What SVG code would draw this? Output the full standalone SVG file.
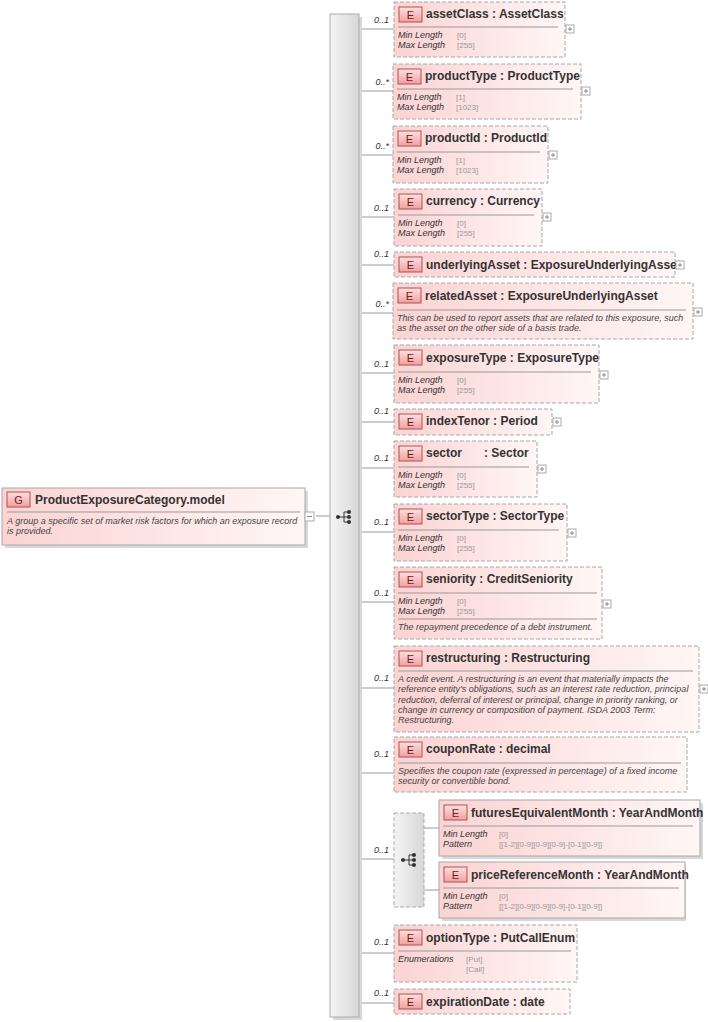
<svg xmlns="http://www.w3.org/2000/svg" width="708" height="1022" viewBox="0 0 708 1022">
<defs>
<linearGradient id="pk" x1="0" y1="0" x2="1" y2="0"><stop offset="0" stop-color="#fbd3d3"/><stop offset="1" stop-color="#fff6f6"/></linearGradient>
<linearGradient id="bd" x1="0" y1="0" x2="0" y2="1"><stop offset="0" stop-color="#fde0e0"/><stop offset="1" stop-color="#f0a0a0"/></linearGradient>
<linearGradient id="gr" x1="0" y1="0" x2="1" y2="0"><stop offset="0" stop-color="#f4f4f4"/><stop offset="1" stop-color="#d8d8d8"/></linearGradient>
<style>
.b{fill:url(#pk);stroke:#a8a8a8;stroke-dasharray:4,2}
.s{fill:url(#pk);stroke:#a8a8a8}
.sh{fill:#d8d8d8}
.bg{fill:url(#bd);stroke:#b05050}
.bl{font:11px "Liberation Sans",Arial,sans-serif;fill:#702020;text-anchor:middle}
.t{font:bold 12px "Liberation Sans",Arial,sans-serif;fill:#333}
.hl{stroke:#999;stroke-width:1}
.p{font:italic 9px "Liberation Sans",Arial,sans-serif;fill:#333}
.v{font:8px "Liberation Sans",Arial,sans-serif;fill:#999}
.d{font:italic 9px "Liberation Sans",Arial,sans-serif;fill:#444}
.c{font:italic 9px "Liberation Sans",Arial,sans-serif;fill:#333;text-anchor:end}
.ln{stroke:#999;fill:none}
.pl{fill:#fff;stroke:#aaa}
</style>
<g id="plus"><rect x="0" y="0" width="8" height="8" class="pl"/><path d="M2 4H6M4 2V6" stroke="#888"/></g>
<g id="ico"><circle cx="0" cy="0" r="2" fill="#333"/><path d="M0 0H6M6 -5V5H10M6 -5H10M6 0H10" stroke="#333" fill="none"/><circle cx="11" cy="-5" r="2" fill="#333"/><circle cx="11" cy="0" r="2" fill="#333"/><circle cx="11" cy="5" r="2" fill="#333"/></g>
</defs>
<rect width="708" height="1022" fill="#fff"/>

<g id="connectors">
<path class="ln" d="M316 516H330"/>
<path class="ln" d="M358 29H394M358 91H393M358 155H393M358 217H394M358 265H394M358 313H393M358 373H394M358 422H394M358 468H394M358 532H394M358 602H394M358 688H394M358 773H394M358 859H394M424 828H439M424 890H439M358 953H394M358 1003H394"/>
</g>

<g id="main-bar"><rect x="333" y="17" width="29" height="1003" class="sh"/><rect x="330" y="14" width="29" height="1003" fill="url(#gr)" stroke="#aaa"/><use href="#ico" x="338" y="517"/></g>

<g id="root">
<rect x="5" y="491" width="303" height="57" class="sh"/>
<rect x="2" y="488" width="303" height="57" class="s"/>
<rect x="7" y="492" width="23" height="15" class="bg"/><text x="18.5" y="504" class="bl">G</text>
<text x="35" y="504" class="t">ProductExposureCategory.model</text>
<line x1="7" y1="512" x2="300" y2="512" class="hl"/>
<text x="7" y="524" class="d">A group a specific set of market risk factors for which an exposure record</text>
<text x="7" y="534" class="d">is provided.</text>
<rect x="305" y="512" width="9" height="9" class="pl"/><path d="M307 516.5H312" stroke="#888"/>
</g>

<g id="assetClass">
<text x="389" y="23" class="c">0..1</text>
<rect x="394" y="2" width="171" height="55" class="b"/>
<rect x="399" y="7" width="23" height="15" class="bg"/><text x="410.5" y="19" class="bl">E</text>
<text x="426" y="18" class="t">assetClass : AssetClass</text>
<line x1="398" y1="27" x2="558" y2="27" class="hl"/>
<text x="398" y="38" class="p">Min Length</text><text x="457" y="38" class="v">[0]</text>
<text x="398" y="48" class="p">Max Length</text><text x="457" y="48" class="v">[255]</text>
<use href="#plus" x="566" y="25"/>
</g>

<g id="productType">
<text x="389" y="85" class="c">0..*</text>
<rect x="393" y="64" width="188" height="55" class="b"/>
<rect x="398" y="69" width="23" height="15" class="bg"/><text x="409.5" y="81" class="bl">E</text>
<text x="425" y="80" class="t">productType : ProductType</text>
<line x1="397" y1="89" x2="573" y2="89" class="hl"/>
<text x="397" y="100" class="p">Min Length</text><text x="456" y="100" class="v">[1]</text>
<text x="397" y="110" class="p">Max Length</text><text x="456" y="110" class="v">[1023]</text>
<use href="#plus" x="582" y="87"/>
</g>

<g id="productId">
<text x="389" y="149" class="c">0..*</text>
<rect x="393" y="126" width="155" height="57" class="b"/>
<rect x="398" y="131" width="23" height="15" class="bg"/><text x="409.5" y="143" class="bl">E</text>
<text x="425" y="142" class="t">productId : ProductId</text>
<line x1="397" y1="152" x2="540" y2="152" class="hl"/>
<text x="397" y="163" class="p">Min Length</text><text x="456" y="163" class="v">[1]</text>
<text x="397" y="173" class="p">Max Length</text><text x="456" y="173" class="v">[1023]</text>
<use href="#plus" x="549" y="151"/>
</g>

<g id="currency">
<text x="389" y="211" class="c">0..1</text>
<rect x="394" y="189" width="148" height="57" class="b"/>
<rect x="399" y="194" width="23" height="15" class="bg"/><text x="410.5" y="206" class="bl">E</text>
<text x="426" y="205" class="t">currency : Currency</text>
<line x1="398" y1="215" x2="534" y2="215" class="hl"/>
<text x="398" y="226" class="p">Min Length</text><text x="457" y="226" class="v">[0]</text>
<text x="398" y="236" class="p">Max Length</text><text x="457" y="236" class="v">[255]</text>
<use href="#plus" x="543" y="213"/>
</g>

<g id="underlyingAsset">
<text x="389" y="257" class="c">0..1</text>
<rect x="394" y="252" width="281" height="25" class="b"/>
<rect x="399" y="257" width="23" height="15" class="bg"/><text x="410.5" y="269" class="bl">E</text>
<text x="426" y="269" class="t">underlyingAsset : ExposureUnderlyingAsset</text>
<use href="#plus" x="676" y="261"/>
</g>

<g id="relatedAsset">
<text x="389" y="307" class="c">0..*</text>
<rect x="393" y="283" width="300" height="56" class="b"/>
<rect x="398" y="288" width="23" height="15" class="bg"/><text x="409.5" y="300" class="bl">E</text>
<text x="425" y="300" class="t">relatedAsset : ExposureUnderlyingAsset</text>
<line x1="397" y1="310" x2="686" y2="310" class="hl"/>
<text x="397" y="321" class="d">This can be used to report assets that are related to this exposure, such</text>
<text x="397" y="331" class="d">as the asset on the other side of a basis trade.</text>
<use href="#plus" x="694" y="308"/>
</g>

<g id="exposureType">
<text x="389" y="367" class="c">0..1</text>
<rect x="394" y="345" width="205" height="58" class="b"/>
<rect x="399" y="350" width="23" height="15" class="bg"/><text x="410.5" y="362" class="bl">E</text>
<text x="426" y="362" class="t">exposureType : ExposureType</text>
<line x1="398" y1="372" x2="591" y2="372" class="hl"/>
<text x="398" y="383" class="p">Min Length</text><text x="457" y="383" class="v">[0]</text>
<text x="398" y="393" class="p">Max Length</text><text x="457" y="393" class="v">[255]</text>
<use href="#plus" x="600" y="371"/>
</g>

<g id="indexTenor">
<text x="389" y="414" class="c">0..1</text>
<rect x="394" y="409" width="158" height="26" class="b"/>
<rect x="399" y="414" width="23" height="15" class="bg"/><text x="410.5" y="426" class="bl">E</text>
<text x="426" y="425" class="t">indexTenor : Period</text>
<use href="#plus" x="553" y="418"/>
</g>

<g id="sector">
<text x="389" y="461" class="c">0..1</text>
<rect x="394" y="441" width="143" height="56" class="b"/>
<rect x="399" y="446" width="23" height="15" class="bg"/><text x="410.5" y="458" class="bl">E</text>
<text x="426" y="457" class="t">sector</text><text x="484" y="457" class="t">: Sector</text>
<line x1="398" y1="467" x2="529" y2="467" class="hl"/>
<text x="398" y="478" class="p">Min Length</text><text x="457" y="478" class="v">[0]</text>
<text x="398" y="488" class="p">Max Length</text><text x="457" y="488" class="v">[255]</text>
<use href="#plus" x="538" y="465"/>
</g>

<g id="sectorType">
<text x="389" y="525" class="c">0..1</text>
<rect x="394" y="504" width="173" height="57" class="b"/>
<rect x="399" y="509" width="23" height="15" class="bg"/><text x="410.5" y="521" class="bl">E</text>
<text x="426" y="520" class="t">sectorType : SectorType</text>
<line x1="398" y1="530" x2="559" y2="530" class="hl"/>
<text x="398" y="541" class="p">Min Length</text><text x="457" y="541" class="v">[0]</text>
<text x="398" y="551" class="p">Max Length</text><text x="457" y="551" class="v">[255]</text>
<use href="#plus" x="568" y="529"/>
</g>

<g id="seniority">
<text x="389" y="596" class="c">0..1</text>
<rect x="394" y="567" width="208" height="72" class="b"/>
<rect x="399" y="572" width="23" height="15" class="bg"/><text x="410.5" y="584" class="bl">E</text>
<text x="426" y="583" class="t">seniority : CreditSeniority</text>
<line x1="398" y1="593" x2="597" y2="593" class="hl"/>
<text x="398" y="604" class="p">Min Length</text><text x="457" y="604" class="v">[0]</text>
<text x="398" y="614" class="p">Max Length</text><text x="457" y="614" class="v">[255]</text>
<line x1="398" y1="619" x2="597" y2="619" class="hl"/>
<text x="398" y="630" class="d">The repayment precedence of a debt instrument.</text>
<use href="#plus" x="603" y="600"/>
</g>

<g id="restructuring">
<text x="389" y="681" class="c">0..1</text>
<rect x="394" y="646" width="305" height="86" class="b"/>
<rect x="399" y="651" width="23" height="15" class="bg"/><text x="410.5" y="663" class="bl">E</text>
<text x="426" y="662" class="t">restructuring : Restructuring</text>
<line x1="398" y1="671" x2="693" y2="671" class="hl"/>
<text x="398" y="682" class="d">A credit event. A restructuring is an event that materially impacts the</text>
<text x="398" y="692" class="d">reference entity's obligations, such as an interest rate reduction, principal</text>
<text x="398" y="703" class="d">reduction, deferral of interest or principal, change in priority ranking, or</text>
<text x="398" y="713" class="d">change in currency or composition of payment. ISDA 2003 Term:</text>
<text x="398" y="723" class="d">Restructuring.</text>
<use href="#plus" x="700" y="685"/>
</g>

<g id="couponRate">
<text x="389" y="757" class="c">0..1</text>
<rect x="394" y="737" width="293" height="55" class="b"/>
<rect x="399" y="742" width="23" height="15" class="bg"/><text x="410.5" y="754" class="bl">E</text>
<text x="426" y="753" class="t">couponRate : decimal</text>
<line x1="398" y1="763" x2="681" y2="763" class="hl"/>
<text x="398" y="774" class="d">Specifies the coupon rate (expressed in percentage) of a fixed income</text>
<text x="398" y="784" class="d">security or convertible bond.</text>
</g>

<g id="sequence">
<text x="389" y="853" class="c">0..1</text>
<rect x="394" y="813" width="30" height="94" fill="url(#gr)" stroke="#aaa" stroke-dasharray="4,2"/>
<use href="#ico" x="403" y="860"/>
</g>

<g id="futuresEquivalentMonth">
<rect x="442" y="803" width="261" height="56" class="sh"/>
<rect x="439" y="800" width="261" height="56" class="s"/>
<rect x="444" y="805" width="23" height="15" class="bg"/><text x="455.5" y="817" class="bl">E</text>
<text x="471" y="817" class="t">futuresEquivalentMonth : YearAndMonth</text>
<line x1="443" y1="826" x2="693" y2="826" class="hl"/>
<text x="443" y="837" class="p">Min Length</text><text x="499" y="837" class="v">[0]</text>
<text x="443" y="847" class="p">Pattern</text><text x="499" y="847" class="v">[[1-2][0-9][0-9][0-9]-[0-1][0-9]]</text>
</g>

<g id="priceReferenceMonth">
<rect x="442" y="865" width="244" height="56" class="sh"/>
<rect x="439" y="862" width="246" height="56" class="s"/>
<rect x="444" y="867" width="23" height="15" class="bg"/><text x="455.5" y="879" class="bl">E</text>
<text x="471" y="879" class="t">priceReferenceMonth : YearAndMonth</text>
<line x1="443" y1="888" x2="679" y2="888" class="hl"/>
<text x="443" y="899" class="p">Min Length</text><text x="499" y="899" class="v">[0]</text>
<text x="443" y="909" class="p">Pattern</text><text x="499" y="909" class="v">[[1-2][0-9][0-9][0-9]-[0-1][0-9]]</text>
</g>

<g id="optionType">
<text x="389" y="945" class="c">0..1</text>
<rect x="394" y="925" width="183" height="57" class="b"/>
<rect x="399" y="930" width="23" height="15" class="bg"/><text x="410.5" y="942" class="bl">E</text>
<text x="426" y="942" class="t">optionType : PutCallEnum</text>
<line x1="398" y1="951" x2="571" y2="951" class="hl"/>
<text x="398" y="962" class="p">Enumerations</text><text x="466" y="962" class="v">[Put]</text>
<text x="466" y="972" class="v">[Call]</text>
</g>

<g id="expirationDate">
<text x="389" y="996" class="c">0..1</text>
<rect x="394" y="989" width="176" height="25" class="b"/>
<rect x="399" y="994" width="23" height="15" class="bg"/><text x="410.5" y="1006" class="bl">E</text>
<text x="426" y="1006" class="t">expirationDate : date</text>
</g>
</svg>
